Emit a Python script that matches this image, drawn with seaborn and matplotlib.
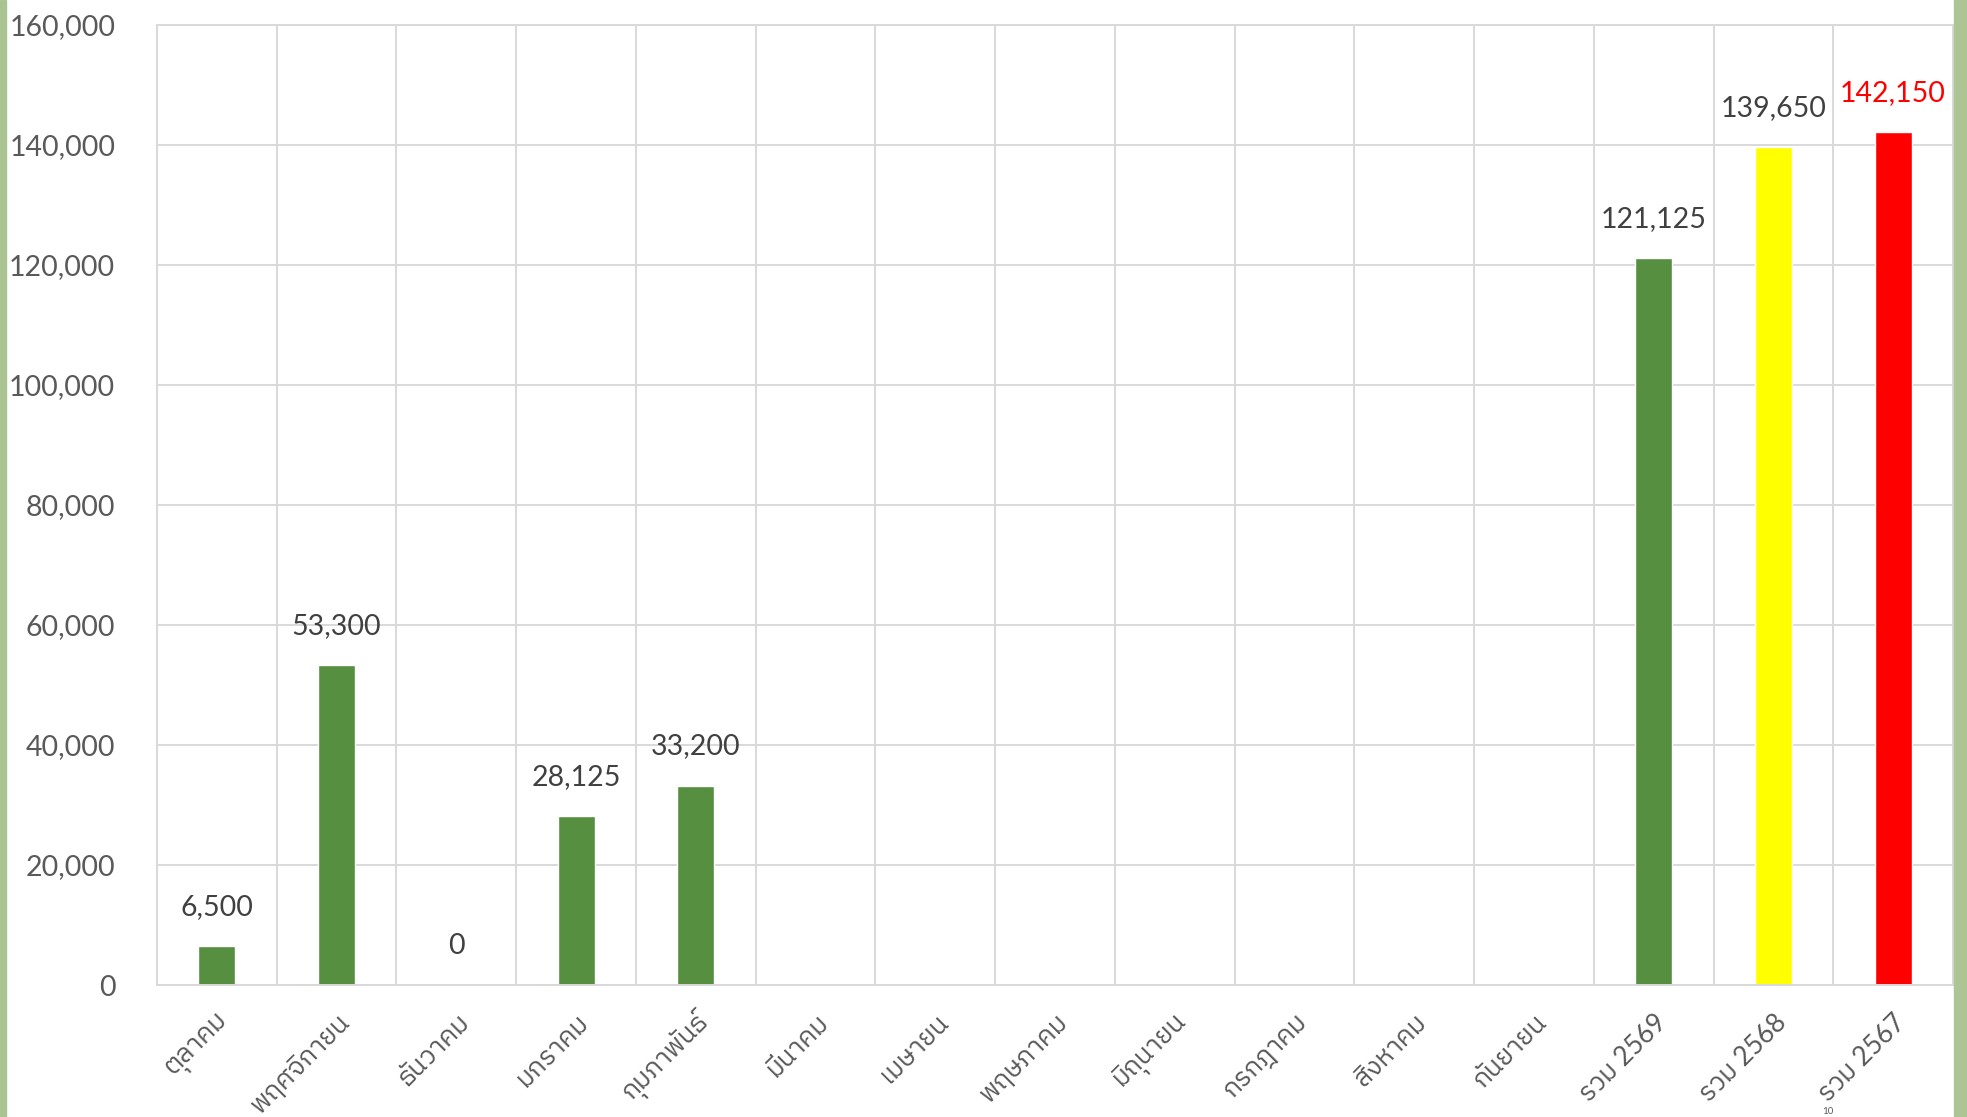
import pandas as pd
import numpy as np
import matplotlib
matplotlib.use('Agg')
import matplotlib.pyplot as plt
import seaborn as sns
from matplotlib import font_manager
from matplotlib.ticker import FuncFormatter, MultipleLocator, FixedLocator
from matplotlib.patches import Rectangle
from matplotlib.transforms import ScaledTranslation

months = ['ตุลาคม', 'พฤศจิกายน', 'ธันวาคม', 'มกราคม', 'กุมภาพันธ์', 'มีนาคม',
          'เมษายน', 'พฤษภาคม', 'มิถุนายน', 'กรกฎาคม', 'สิงหาคม', 'กันยายน',
          'รวม 2569', 'รวม 2568', 'รวม 2567']
amounts = [6500, 53300, 0, 28125, 33200, np.nan, np.nan, np.nan, np.nan,
           np.nan, np.nan, np.nan, 121125, 139650, 142150]
bar_colors = ['#558F3F'] * 13 + ['#FFFF00', '#FF0000']
label_colors = ['#404040'] * 14 + ['#FF0000']

# pick a font that has Thai glyphs, if any is installed
thai = [f.name for f in font_manager.fontManager.ttflist
        if 'Thai' in f.name or 'Tlwg' in f.name
        or f.name in ('Garuda', 'Loma', 'Kinnari', 'Norasi', 'Sawasdee', 'Umpush', 'Waree', 'Laksaman', 'Purisa')]
families = ['Lato'] + sorted(set(thai))[:1] + ['DejaVu Sans']

sns.set_style('white')
plt.rcParams['font.family'] = families

df = pd.DataFrame({'month': months, 'amount': amounts})
df_bars = df.dropna()

fig = plt.figure(figsize=(19.67, 11.17), dpi=100)
ax = fig.add_axes([157 / 1967, 132 / 1117, (1953 - 157) / 1967, (1092 - 132) / 1117])

sns.barplot(data=df_bars, x='month', y='amount', hue='month', order=months,
            hue_order=months, palette=dict(zip(months, bar_colors)),
            width=0.31, legend=False, ax=ax, saturation=1)

for i, (v, c) in enumerate(zip(amounts, label_colors)):
    if np.isnan(v):
        continue
    ax.annotate(f'{int(v):,}', (i, v), xytext=(0, 19), textcoords='offset points',
                ha='center', va='bottom', fontsize=20.5, color=c)

ax.set_xlim(-0.5, 14.5)
ax.set_ylim(0, 160000)
ax.yaxis.set_major_locator(MultipleLocator(20000))
ax.yaxis.set_major_formatter(FuncFormatter(lambda v, p: f'{int(v):,}'))
ax.xaxis.set_minor_locator(FixedLocator(np.arange(-0.5, 15, 1)))
ax.grid(axis='y', which='major', color='#D9D9D9', linewidth=1.4)
ax.grid(axis='x', which='minor', color='#D9D9D9', linewidth=1.4)
ax.set_axisbelow(True)
for s in ax.spines.values():
    s.set_color('#D9D9D9')
    s.set_linewidth(1.4)

ax.tick_params(axis='y', length=0, pad=30, labelsize=20.5, labelcolor='#595959')
ax.tick_params(axis='x', which='major', length=0, pad=24, labelsize=19, labelcolor='#595959')
ax.tick_params(axis='x', which='minor', length=5, width=1.4, color='#D9D9D9')
ax.set_xticks(range(len(months)))
ax.set_xticklabels(months, rotation=45, ha='right', va='center', rotation_mode='anchor')
shift = ScaledTranslation(9 / 100, 0, fig.dpi_scale_trans)
for lab in ax.get_xticklabels():
    lab.set_transform(lab.get_transform() + shift)
ax.set_xlabel('')
ax.set_ylabel('')

# green borders of the slide
fig.patches.append(Rectangle((0, 0), 6 / 1967, 1, transform=fig.transFigure, color='#A9C490', zorder=0))
fig.patches.append(Rectangle((1954 / 1967, 0), 13 / 1967, 1, transform=fig.transFigure, color='#ADC595', zorder=0))
fig.text(1822 / 1967, 0.001, '10', fontsize=7, color='#595959', va='bottom')

fig.savefig('out.png', dpi=100)
